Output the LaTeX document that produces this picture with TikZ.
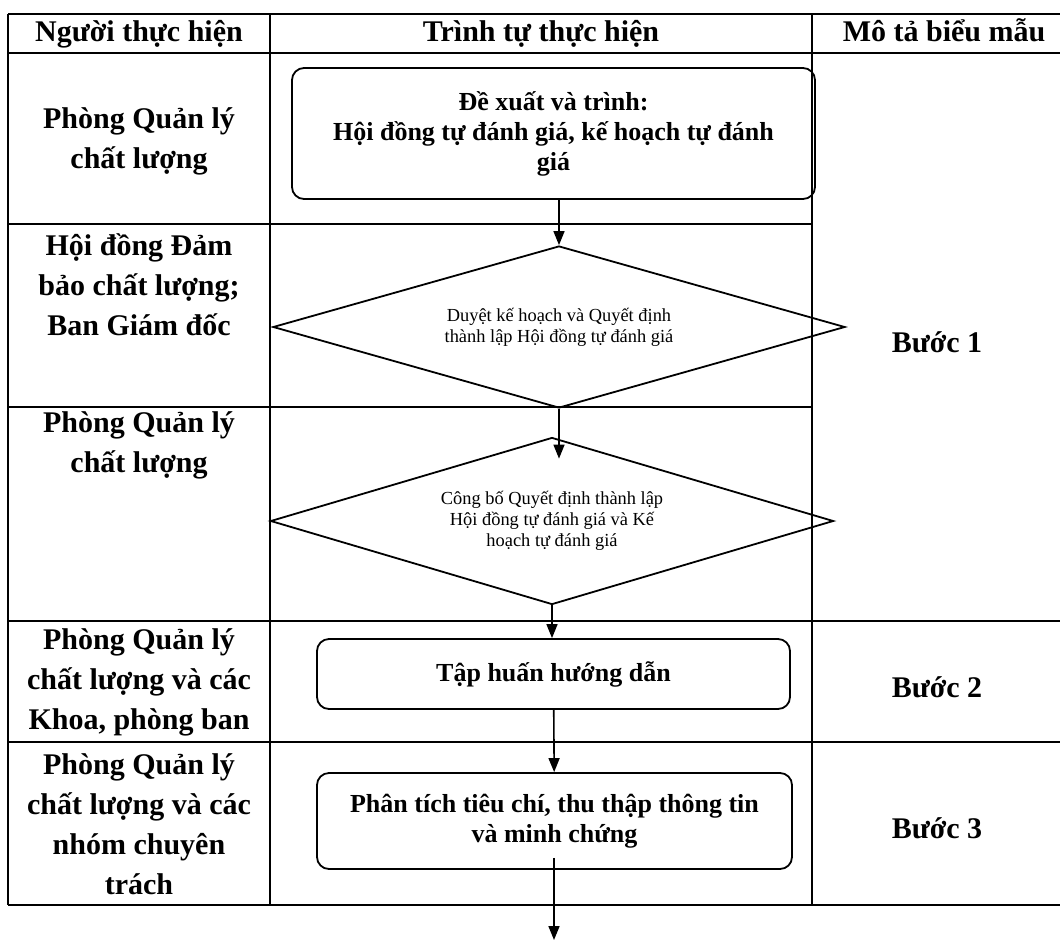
\documentclass[tikz,border=0pt]{standalone}
\usepackage{fontspec}
\setmainfont{Liberation Serif}
\usetikzlibrary{shapes.geometric,arrows.meta}

\begin{document}
\begin{tikzpicture}[x=0.5pt,y=-0.5pt,
		hop/.style={draw,rounded corners=6pt,line width=0.9pt,align=center,inner sep=0pt,
			font=\fontsize{13}{15}\selectfont\bfseries},
		thoi/.style={draw,diamond,aspect=3.5,inner sep=0pt,line width=0.9pt,align=center,
			font=\fontsize{9.2}{10.5}\selectfont},
		cot/.style={align=center,font=\fontsize{15}{20}\selectfont\bfseries},
		>={Triangle[length=7pt,width=5.5pt]}]
		\useasboundingbox (0,0) rectangle (1060,943);

		% Khung bảng
		\draw[line width=1pt] (8,14) -- (1060,14);
		\draw[line width=1pt] (8,53) -- (1060,53);
		\draw[line width=0.9pt] (8,224) -- (812,224);
		\draw[line width=0.9pt] (8,407) -- (812,407);
		\draw[line width=1pt] (8,621) -- (1060,621);
		\draw[line width=1pt] (8,742) -- (1060,742);
		\draw[line width=1pt] (8,905) -- (1060,905);
		\draw[line width=0.9pt] (8,14) -- (8,905);
		\draw[line width=0.9pt] (270,14) -- (270,905);
		\draw[line width=0.9pt] (812,14) -- (812,905);

		% Tiêu đề cột
		\node[cot,anchor=base] (h1) at (139,41) {Người thực hiện};
		\node[cot,anchor=base] (h2) at (541,41) {Trình tự thực hiện};
		\node[cot,anchor=base] (h3) at (944,41) {Mô tả biểu mẫu};

		% Người thực hiện
		\node[cot] (n1) at (139,141) {Phòng Quản lý\\chất lượng};
		\node[cot] (n2) at (139,285) {Hội đồng Đảm\\bảo chất lượng;\\Ban Giám đốc};
		\node[cot] (n3) at (139,445) {Phòng Quản lý\\chất lượng};
		\node[cot] (n4) at (139,682) {Phòng Quản lý\\chất lượng và các\\Khoa, phòng ban};
		\node[cot] (n5) at (139,824) {Phòng Quản lý\\chất lượng và các\\nhóm chuyên\\trách};

		% Trình tự
		\node[hop,minimum width=261.5pt,minimum height=65.5pt] (b1) at (553.5,133.5)
			{Đề xuất và trình:\\Hội đồng tự đánh giá, kế hoạch tự đánh\\giá};
		\node[thoi,minimum width=286pt,minimum height=81pt] (d1) at (559,327)
			{Duyệt kế hoạch và Quyết định\\thành lập Hội đồng tự đánh giá};
		\node[thoi,minimum width=281.5pt,minimum height=83.5pt] (d2) at (552,521)
			{Công bố Quyết định thành lập\\Hội đồng tự đánh giá và Kế\\hoạch tự đánh giá};
		\node[hop,minimum width=236.5pt,minimum height=35pt] (b3) at (553.5,674)
			{Tập huấn hướng dẫn};
		\node[hop,minimum width=237.5pt,minimum height=48pt] (b4) at (554.5,821)
			{Phân tích tiêu chí, thu thập thông tin\\và minh chứng};
		\coordinate (e5) at (554,940);

		% Mô tả biểu mẫu
		\node[cot] (s1) at (937,342) {Bước 1};
		\node[cot] (s2) at (937,687) {Bước 2};
		\node[cot] (s3) at (937,828) {Bước 3};

		% Mũi tên
		\draw[->, line width=0.8pt] (d1.north |- b1.south) to (d1.north);
		\draw[->, line width=0.8pt, shorten >=-11pt] (d1.south) to (d1.south |- d2.north);
		\draw[->, line width=0.8pt] (d2.south) to (d2.south |- b3.north);
		\draw[->, line width=0.8pt] (b3) to (b4);
		\draw[->, line width=0.8pt, shorten <=-6pt] (b4.south -| e5) to (e5);
	\end{tikzpicture}
\end{document}
